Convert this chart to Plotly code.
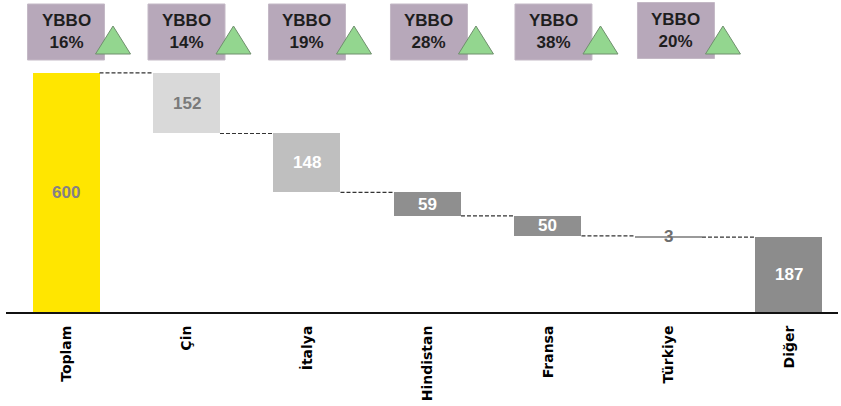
import plotly.graph_objects as go

# Waterfall data: total, contributions per country, remainder
categories = ["Toplam", "Çin", "İtalya", "Hindistan", "Fransa", "Türkiye", "Diğer"]
values = [600, 152, 148, 59, 50, 3, 187]
kinds = ["total", "step", "step", "step", "step", "step", "total"]
growth_labels = ["16%", "14%", "19%", "28%", "38%", "20%"]
badge_title = "YBBO"

bar_colors = ["#FFE600", "#D9D9D9", "#BFBFBF", "#8F8F8F", "#8F8F8F", "#9A9A9A", "#8C8C8C"]
label_colors = ["#858085", "#7A7A7A", "#FFFFFF", "#FFFFFF", "#FFFFFF", "#6E6E6E", "#FFFFFF"]

# bases: steps hang down from the running level, totals start at zero
bases, tops = [], []
level = 0
for v, k in zip(values, kinds):
    if k == "total":
        b = 0
        level = v
    else:
        level -= v
        b = level
    bases.append(b)
    tops.append(b + v)

x = list(range(len(categories)))
BAR_W = 0.556

fig = go.Figure()
fig.add_trace(go.Bar(
    x=x, y=values, base=bases, width=BAR_W,
    marker=dict(color=bar_colors, line=dict(width=0)),
    hoverinfo="skip", showlegend=False,
))

# dashed connectors between neighbouring bars
cx, cy = [], []
for i in range(len(values) - 1):
    lvl = bases[i] if kinds[i] == "step" else tops[i]
    cx += [i + BAR_W / 2, i + 1 - BAR_W / 2, None]
    cy += [lvl, lvl, None]
fig.add_trace(go.Scatter(
    x=cx, y=cy, mode="lines",
    line=dict(color="#333333", width=1.2, dash="4px,2px"),
    hoverinfo="skip", showlegend=False,
))

annotations = []
for i, v in enumerate(values):
    annotations.append(dict(
        x=i, y=bases[i] + v / 2, xref="x", yref="y", text=f"<b>{v}</b>",
        showarrow=False, font=dict(family="Liberation Sans", size=17, color=label_colors[i]),
    ))

# growth badges with green up-triangles
PX_X = 1 / 120.5        # data units per pixel on x
PLOT_H = 312.0          # plot height in pixels
badge_shift_px = [0, 0, 0, 1.5, 5.5, 7.5]
badge_w, badge_h = 77, 56
shapes = []
for i, g in enumerate(growth_labels):
    xc = i + badge_shift_px[i] * PX_X
    yc_px = 32 if i < 5 else 30.5
    left = xc - badge_w / 2 * PX_X
    right = xc + badge_w / 2 * PX_X
    shapes.append(dict(
        type="rect", xref="x", yref="paper", layer="above",
        x0=left, x1=right,
        y0=1 - (yc_px + badge_h / 2) / PLOT_H, y1=1 - (yc_px - badge_h / 2) / PLOT_H,
        fillcolor="#B7A8BA", line=dict(color="#C4B9C6", width=1),
    ))
    annotations.append(dict(
        x=xc, y=1 - yc_px / PLOT_H, xref="x", yref="paper",
        text=f"<b>{badge_title}<br>{g}</b>", showarrow=False,
        font=dict(family="Liberation Sans", size=17, color="#1E1E1E"),
        xanchor="center", yanchor="middle",
    ))
    x0, x1, xm = right - 9 * PX_X, right + 26 * PX_X, right + 8.5 * PX_X
    yb, yt = 1 - 54 / PLOT_H, 1 - 26 / PLOT_H
    shapes.append(dict(
        type="path", xref="x", yref="paper", layer="above",
        path=f"M {x0} {yb} L {x1} {yb} L {xm} {yt} Z",
        fillcolor="#93D68F", line=dict(color="#6F8F6D", width=1),
    ))

fig.update_layout(
    width=841, height=406,
    margin=dict(l=6, r=3, t=0, b=94),
    paper_bgcolor="white", plot_bgcolor="white",
    bargap=0, showlegend=False,
    annotations=annotations, shapes=shapes,
    xaxis=dict(
        tickmode="array", tickvals=x, ticktext=[f"<b>{c}</b>" for c in categories],
        tickangle=-90, range=[-0.498, 6.407], showgrid=False, zeroline=False,
        showline=True, linecolor="#111111", linewidth=2, ticks="",
        tickfont=dict(family="DejaVu Sans", size=14, color="#000000"),
        ticklabelstandoff=6,
    ),
    yaxis=dict(range=[0, 783], visible=False, showgrid=False, zeroline=False),
)

fig.write_html("out.html")
